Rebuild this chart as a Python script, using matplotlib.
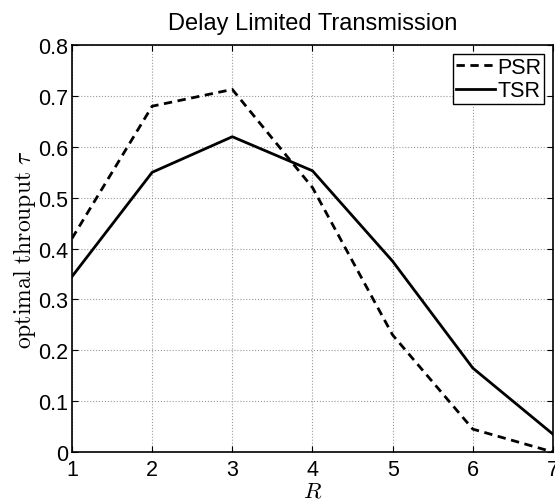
import numpy as np
from matplotlib import pyplot as plt

plt.rcParams['font.family'] = ['Liberation Sans', 'DejaVu Sans']
plt.rcParams['mathtext.fontset'] = 'cm'

# dados
R = [1, 2, 3, 4, 5, 6, 7]
psr = [0.42, 0.68, 0.713, 0.52, 0.23, 0.045, 0.0]
tsr = [0.345, 0.55, 0.62, 0.553, 0.375, 0.165, 0.035]

fig = plt.figure(figsize=(5.55, 5.02), dpi=100)
ax = fig.add_axes([0.1297, 0.0976, 0.8667, 0.8104])

ax.plot(R, psr, '--', color='black', lw=2, dashes=(3, 2), label='PSR')
ax.plot(R, tsr, '-', color='black', lw=2, label='TSR')

ax.set_xlim(1, 7)
ax.set_ylim(0, 0.8)
ax.set_xticks(R)
ax.set_yticks(np.arange(0, 0.81, 0.1))
ax.set_yticklabels(['0', '0.1', '0.2', '0.3', '0.4', '0.5', '0.6', '0.7', '0.8'])
ax.tick_params(direction='in', top=True, right=True, labelsize=15.5, length=4)
ax.tick_params(axis='x', pad=5)
ax.tick_params(axis='y', pad=2.5)
ax.grid(True, linestyle=':', color='#999999', lw=0.8)
for sp in ax.spines.values():
    sp.set_linewidth(1.2)

ax.set_title('Delay Limited Transmission', fontsize=17, pad=12)
ax.set_xlabel(r'$R$', fontsize=16.5, labelpad=-1)
ax.set_ylabel(r'$\mathrm{optimal\ throuput}\ \tau$', fontsize=17, labelpad=0)

leg = ax.legend(loc='upper right', fontsize=15.5, fancybox=False, edgecolor='black',
                handlelength=1.8, handletextpad=0.1, borderpad=0.15, labelspacing=0.1,
                borderaxespad=0.4, framealpha=1)
leg.get_frame().set_linewidth(1.0)

plt.savefig('out.png', dpi=100)
